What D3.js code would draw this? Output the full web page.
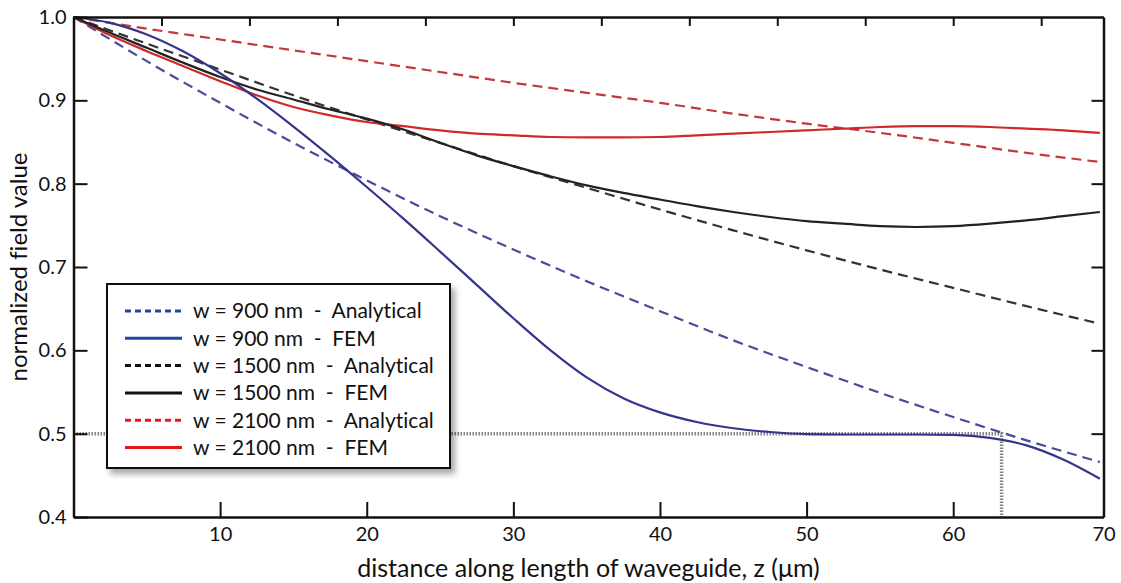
<!DOCTYPE html>
<html>
<head>
<meta charset="utf-8">
<script src="https://cdn.jsdelivr.net/npm/d3@7"></script>
<style>
    body { margin: 0; background: #fff; }
    #div_fieldchart { width: 1121px; height: 583px; }
    text { font-family: Lato, "Open Sans", sans-serif; fill: #111; font-variant-ligatures: none; }
</style>
</head>
<body>
<div id="div_fieldchart"></div>
<script>
// distance along waveguide, um
var zValues = [0, 2.5, 5, 7.5, 10, 12.5, 15, 17.5, 20, 22.5, 25, 27.5, 30, 32.5, 35,
    37.5, 40, 42.5, 45, 47.5, 50, 52.5, 55, 57.5, 60, 62.5, 65, 67.5, 70];

// analytical curves are sampled every 5 um
var zAnalytical = [0, 5, 10, 15, 20, 25, 30, 35, 40, 45, 50, 55, 60, 65, 70];
var w900Analytical = [1.0, 0.947, 0.897, 0.849, 0.804, 0.761, 0.721, 0.683, 0.647, 0.612, 0.580, 0.549, 0.520, 0.492, 0.466];
var w1500Analytical = [1.0, 0.968, 0.937, 0.906, 0.877, 0.849, 0.821, 0.795, 0.769, 0.744, 0.720, 0.697, 0.675, 0.653, 0.632];
var w2100Analytical = [1.0, 0.986, 0.973, 0.960, 0.947, 0.934, 0.921, 0.909, 0.897, 0.884, 0.872, 0.861, 0.849, 0.837, 0.826];

var w900FEM = [1.0, 0.993, 0.979, 0.9585, 0.9325, 0.902, 0.8685, 0.833, 0.796, 0.758, 0.7185, 0.6785, 0.6385, 0.6005, 0.5675,
    0.5425, 0.5255, 0.514, 0.5065, 0.502, 0.4995, 0.499, 0.499, 0.499, 0.4985, 0.495, 0.486, 0.469, 0.446];
var w1500FEM = [1.0, 0.981, 0.963, 0.945, 0.928, 0.913, 0.901, 0.889, 0.878, 0.865, 0.849, 0.834, 0.821, 0.809, 0.798,
    0.789, 0.781, 0.773, 0.766, 0.760, 0.755, 0.752, 0.749, 0.748, 0.749, 0.752, 0.756, 0.761, 0.766];
var w2100FEM = [1.0, 0.978, 0.959, 0.941, 0.923, 0.906, 0.892, 0.882, 0.874, 0.869, 0.864, 0.860, 0.858, 0.856, 0.8555,
    0.8555, 0.856, 0.858, 0.860, 0.862, 0.864, 0.866, 0.868, 0.869, 0.869, 0.868, 0.866, 0.864, 0.861];

var legendLabels = [
    "w = 900 nm  -  Analytical",
    "w = 900 nm  -  FEM",
    "w = 1500 nm  -  Analytical",
    "w = 1500 nm  -  FEM",
    "w = 2100 nm  -  Analytical",
    "w = 2100 nm  -  FEM"
];

var xTicks = [10, 20, 30, 40, 50, 60, 70];
var xTopTicks = [6, 12, 18, 24, 30, 36, 42, 48, 54, 60, 66];
var yTicks = [0.4, 0.5, 0.6, 0.7, 0.8, 0.9, 1.0];
var cutoffLevel = 0.5;
var cutoffZ = 63.3;

function renderFieldChart(div_id) {
    var renderDiv = document.getElementById(div_id)
    renderDiv.innerHTML = ""
    var margin = { top: 17, right: 17.5, bottom: 66, left: 73.5 },
        width = 1121 - margin.left - margin.right,
        height = 583 - margin.top - margin.bottom;

    // the frame runs a little past 70
    var x = d3.scaleLinear().domain([0, 70.25]).range([0, width]);
    var y = d3.scaleLinear().domain([0.4, 1.0]).range([height, 0]);

    var svg = d3.select(renderDiv).append("svg")
        .attr("width", 1121)
        .attr("height", 583);

    var defs = svg.append("defs");
    var shadow = defs.append("filter").attr("id", "shadow")
        .attr("x", "-10%").attr("y", "-10%").attr("width", "130%").attr("height", "130%");
    shadow.append("feDropShadow")
        .attr("dx", 4).attr("dy", 5).attr("stdDeviation", 3)
        .attr("flood-color", "#000").attr("flood-opacity", 0.35);

    var g = svg.append("g")
        .attr("transform", "translate(" + margin.left + "," + margin.top + ")");

    // dotted guide lines at the 0.5 level
    g.append("path")
        .attr("d", "M0," + y(cutoffLevel) + "H" + x(cutoffZ) + "V" + height)
        .style("fill", "none")
        .style("stroke", "#808080")
        .style("stroke-width", 3.5)
        .style("stroke-dasharray", "1.5,1.5");

    var line = d3.line()
        .x(function (d) { return x(d[0]); })
        .y(function (d) { return y(d[1]); })
        .curve(d3.curveMonotoneX);

    var series = [
        { z: zAnalytical, v: w2100Analytical, color: "#c3383c", dash: "10,6" },
        { z: zAnalytical, v: w1500Analytical, color: "#333", dash: "10,6" },
        { z: zAnalytical, v: w900Analytical, color: "#4b4b9a", dash: "10,6" },
        { z: zValues, v: w2100FEM, color: "#d0282b", dash: null },
        { z: zValues, v: w1500FEM, color: "#222", dash: null },
        { z: zValues, v: w900FEM, color: "#35358c", dash: null }
    ];

    series.forEach(function (s) {
        g.append("path")
            .datum(s.z.map(function (z, i) { return [z, s.v[i]]; }))
            .attr("d", line)
            .style("fill", "none")
            .style("stroke", s.color)
            .style("stroke-width", 2.2)
            .style("stroke-dasharray", s.dash);
    });

    // Axes, ticks pointing inward
    var xAxis = g.append("g")
        .attr("transform", "translate(0," + height + ")")
        .call(d3.axisBottom(x).tickValues(xTicks.map(function (t) { return t == 70 ? 70.25 : t; }))
            .tickFormat(function (d) { return Math.round(d); })
            .tickSizeInner(-15).tickSizeOuter(0).tickPadding(10));

    var xTop = g.append("g")
        .call(d3.axisTop(x).tickValues(xTopTicks).tickFormat("")
            .tickSizeInner(-9).tickSizeOuter(0));

    var yAxis = g.append("g")
        .call(d3.axisLeft(y).tickValues(yTicks).tickFormat(d3.format(".1f"))
            .tickSizeInner(-14).tickSizeOuter(0).tickPadding(7));

    var yRight = g.append("g")
        .attr("transform", "translate(" + width + ",0)")
        .call(d3.axisRight(y).tickValues([0.5, 0.6, 0.7, 0.8, 0.9]).tickFormat("")
            .tickSizeInner(-12).tickSizeOuter(0));

    [xAxis, xTop, yAxis, yRight].forEach(function (a) {
        a.selectAll("path").style("stroke", "#111").style("stroke-width", 2.5);
        a.selectAll("line").style("stroke", "#111").style("stroke-width", 2);
        a.selectAll("text").style("font-size", "20px").style("fill", "#111");
    });

    // axis titles
    g.append("text")
        .attr("x", width / 2)
        .attr("y", height + 60)
        .attr("text-anchor", "middle")
        .style("font-size", "25px")
        .text("distance along length of waveguide, z (\u03bcm)");

    g.append("text")
        .attr("transform", "rotate(-90)")
        .attr("x", -height / 2)
        .attr("y", -47)
        .attr("text-anchor", "middle")
        .style("font-size", "24px")
        .text("normalized field value");

    // legend
    var legendColors = ["#1f479e", "#1f479e", "#111", "#111", "#e3171c", "#e3171c"];
    var legend = g.append("g")
        .attr("transform", "translate(" + (107 - margin.left) + "," + (284 - margin.top) + ")");

    legend.append("rect")
        .attr("width", 343)
        .attr("height", 184)
        .style("fill", "#fff")
        .style("stroke", "#111")
        .style("stroke-width", 2)
        .attr("filter", "url(#shadow)");

    var rows = legend.selectAll("g.row")
        .data(legendLabels)
        .enter().append("g")
        .attr("class", "row")
        .attr("transform", function (d, i) { return "translate(0," + (27 + i * 27.3) + ")"; });

    rows.append("line")
        .attr("x1", 18).attr("x2", 75)
        .style("stroke", function (d, i) { return legendColors[i]; })
        .style("stroke-width", 3)
        .style("stroke-dasharray", function (d, i) { return i % 2 == 0 ? "6,4" : null; });

    rows.append("text")
        .attr("x", 86)
        .attr("dy", "0.35em")
        .style("font-size", "21px")
        .style("white-space", "pre")
        .text(function (d) { return d; });
}

renderFieldChart("div_fieldchart")
</script>
</body>
</html>
